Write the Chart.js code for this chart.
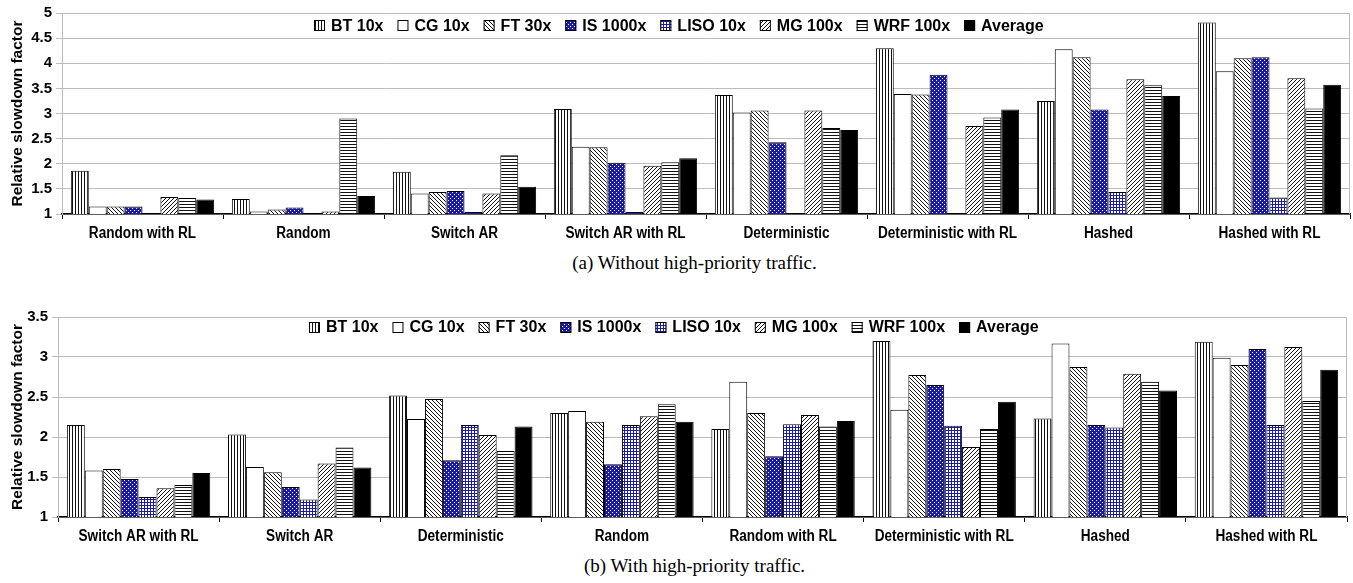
<!DOCTYPE html>
<html>
<head>
<meta charset="utf-8">
<script src="https://cdn.jsdelivr.net/npm/chart.js@4.4.1/dist/chart.umd.min.js"></script>
<style>
  html, body { margin: 0; padding: 0; background: #fff; }
  body { width: 1353px; height: 583px; position: relative; overflow: hidden; }
  .panel { position: absolute; left: 0; }
  .caption {
    position: absolute; left: 18px; width: 1353px; text-align: center;
    font-family: "Liberation Serif", "Times New Roman", serif; font-size: 19px; color: #000;
    line-height: 22px;
  }
</style>
</head>
<body>
<div class="panel" style="top:0"><canvas id="chartA" width="1353" height="245"></canvas></div>
<div class="caption" style="top:252px">(a) Without high-priority traffic.</div>
<div class="panel" style="top:304px"><canvas id="chartB" width="1353" height="244"></canvas></div>
<div class="caption" style="top:555px">(b) With high-priority traffic.</div>

<script>
// ---- Benchmarks shown in each group ----
const seriesNames = ['BT 10x', 'CG 10x', 'FT 30x', 'IS 1000x', 'LISO 10x', 'MG 100x', 'WRF 100x', 'Average'];

// ---- (a) Without high-priority traffic ----
const categoriesA = ['Random with RL', 'Random', 'Switch AR', 'Switch AR with RL',
                     'Deterministic', 'Deterministic with RL', 'Hashed', 'Hashed with RL'];
const btA   = [1.86, 1.30, 1.84, 3.09, 3.37, 4.30, 3.25, 4.81];
const cgA   = [1.15, 1.05, 1.41, 2.34, 3.02, 3.39, 4.28, 3.84];
const ftA   = [1.15, 1.09, 1.44, 2.33, 3.06, 3.38, 4.12, 4.10];
const isA   = [1.15, 1.13, 1.46, 2.02, 2.43, 3.77, 3.08, 4.12];
const lisoA = [1.02, 1.01, 1.04, 1.04, null, null, 1.44, 1.33];
const mgA   = [1.34, 1.05, 1.41, 1.96, 3.06, 2.75, 3.68, 3.70];
const wrfA  = [1.32, 2.90, 2.17, 2.03, 2.71, 2.92, 3.56, 3.10];
const avgA  = [1.29, 1.36, 1.54, 2.11, 2.67, 3.08, 3.35, 3.57];

// ---- (b) With high-priority traffic ----
const categoriesB = ['Switch AR with RL', 'Switch AR', 'Deterministic', 'Random',
                     'Random with RL', 'Deterministic with RL', 'Hashed', 'Hashed with RL'];
const btB   = [2.15, 2.03, 2.52, 2.30, 2.10, 3.20, 2.23, 3.19];
const cgB   = [1.58, 1.625, 2.225, 2.325, 2.69, 2.34, 3.17, 2.99];
const ftB   = [1.60, 1.56, 2.475, 2.19, 2.30, 2.775, 2.875, 2.90];
const isB   = [1.475, 1.375, 1.71, 1.66, 1.76, 2.65, 2.15, 3.10];
const lisoB = [1.25, 1.22, 2.15, 2.15, 2.16, 2.14, 2.12, 2.15];
const mgB   = [1.36, 1.67, 2.025, 2.26, 2.275, 1.875, 2.79, 3.125];
const wrfB  = [1.40, 1.87, 1.825, 2.41, 2.13, 2.10, 2.69, 2.45];
const avgB  = [1.55, 1.62, 2.13, 2.19, 2.20, 2.44, 2.58, 2.84];

// ---- Y axis ranges ----
const yRangeA = { min: 1, max: 5, step: 0.5 };
const yRangeB = { min: 1, max: 3.5, step: 0.25 };

// ---- Monochrome fill patterns ----
const BLUE = '#1c1c9e';
function tile(size, bg, paint) {
  const c = document.createElement('canvas');
  c.width = size; c.height = size;
  const g = c.getContext('2d');
  g.fillStyle = bg; g.fillRect(0, 0, size, size);
  paint(g, size);
  return document.createElement('canvas').getContext('2d').createPattern(c, 'repeat');
}
const fills = [
  tile(3, '#fff', (g) => { g.fillStyle = '#111'; g.fillRect(0, 0, 1, 3); }),                    // vertical lines
  '#ffffff',                                                                                     // plain white
  tile(4, '#fff', (g) => { g.fillStyle = '#111'; for (let i = 0; i < 4; i++) g.fillRect(i, i, 1, 1); }),      // "\" hatch
  tile(4, BLUE, (g) => { g.fillStyle = '#fff'; g.fillRect(0, 0, 1, 1); g.fillRect(2, 2, 1, 1); }),           // blue dots
  tile(3, '#fff', (g) => { g.fillStyle = BLUE; g.fillRect(0, 0, 3, 1); g.fillRect(0, 0, 1, 3); }),           // blue grid
  tile(4, '#fff', (g) => { g.fillStyle = '#111'; for (let i = 0; i < 4; i++) g.fillRect(3 - i, i, 1, 1); }),  // "/" hatch
  tile(3, '#fff', (g) => { g.fillStyle = '#111'; g.fillRect(0, 0, 3, 1); }),                    // horizontal lines
  '#000000'                                                                                      // solid black
];

const SANS = '"Liberation Sans", Arial, sans-serif';
const GRID = '#bcbcbc';

// Legend drawn inside the plot, in the band between the two topmost grid lines
const plotLegend = {
  id: 'plotLegend',
  afterDatasetsDraw(chart, args, opts) {
    const ctx = chart.ctx;
    const ys = chart.scales.y;
    const y = (ys.getPixelForValue(opts.upper) + ys.getPixelForValue(opts.lower)) / 2;
    ctx.save();
    ctx.font = 'bold 16px ' + SANS;
    ctx.textBaseline = 'middle';
    const box = 11, gapText = 6, gapItem = 14;
    const items = chart.data.datasets.map(ds => ({ label: ds.label, fill: ds.backgroundColor, w: ctx.measureText(ds.label).width }));
    const total = items.reduce((s, it) => s + box + gapText + it.w, 0) + gapItem * (items.length - 1);
    let x = Math.round(chart.width / 2 - total / 2 + opts.shift);
    items.forEach(it => {
      const top = Math.round(y - box / 2);
      ctx.fillStyle = it.fill;
      ctx.fillRect(x, top, box, box);
      ctx.strokeStyle = '#000'; ctx.lineWidth = 1;
      ctx.strokeRect(x + 0.5, top + 0.5, box - 1, box - 1);
      ctx.fillStyle = '#000';
      ctx.fillText(it.label, x + box + gapText, y + 1);
      x += box + gapText + it.w + gapItem;
    });
    ctx.restore();
  }
};

// Category names under the x axis, set in a condensed bold face
const condensedCategoryLabels = {
  id: 'condensedCategoryLabels',
  afterDraw(chart) {
    const { ctx, chartArea: a } = chart;
    const xs = chart.scales.x;
    ctx.save();
    ctx.font = 'bold 16px ' + SANS;
    ctx.fillStyle = '#000';
    ctx.textAlign = 'center';
    ctx.textBaseline = 'middle';
    chart.data.labels.forEach((label, i) => {
      ctx.save();
      ctx.translate(xs.getPixelForTick(i), a.bottom + 19.5);
      ctx.scale(0.85, 1);
      ctx.fillText(label, 0, 0);
      ctx.restore();
    });
    ctx.restore();
  }
};

// Right-hand frame line of the plot area
const plotFrame = {
  id: 'plotFrame',
  beforeDatasetsDraw(chart) {
    const { ctx, chartArea: a } = chart;
    ctx.save();
    ctx.strokeStyle = GRID; ctx.lineWidth = 1;
    ctx.beginPath();
    ctx.moveTo(Math.round(a.right) - 0.5, a.top);
    ctx.lineTo(Math.round(a.right) - 0.5, a.bottom);
    ctx.stroke();
    ctx.restore();
  }
};

function buildChart(id, categories, values, range, axisWidth, padRight, legendShift) {
  const datasets = values.map((vals, i) => ({
    label: seriesNames[i],
    data: vals,
    backgroundColor: fills[i],
    borderColor: '#000',
    borderWidth: 1,
    categoryPercentage: 0.89,
    barPercentage: 1.0
  }));
  return new Chart(document.getElementById(id), {
    type: 'bar',
    data: { labels: categories, datasets },
    plugins: [plotFrame, plotLegend, condensedCategoryLabels],
    options: {
      responsive: false,
      animation: false,
      devicePixelRatio: 1,
      layout: { padding: { top: 13, right: padRight, bottom: 0, left: 0 } },
      plugins: {
        legend: { display: false },
        tooltip: { enabled: false },
        plotLegend: { upper: range.max, lower: range.max - (range.step === 0.5 ? 0.5 : 0.25), shift: legendShift }
      },
      scales: {
        x: {
          grid: { offset: true, drawOnChartArea: false, tickLength: 5, color: '#000', lineWidth: 1 },
          border: { color: '#000', width: 1.5 },
          ticks: { display: false, autoSkip: false },
          afterFit(s) { s.height = 31; }
        },
        y: {
          min: range.min, max: range.max,
          grid: { color: GRID, lineWidth: 1, tickLength: 6 },
          border: { color: GRID, width: 1 },
          ticks: {
            stepSize: range.step, color: '#000', padding: 4,
            font: { family: SANS, size: 15, weight: 'bold' },
            callback: (v) => (Math.abs(v * 2 - Math.round(v * 2)) < 1e-6 ? String(v) : '')
          },
          title: {
            display: true, text: 'Relative slowdown factor', color: '#000',
            font: { family: SANS, size: 15.5, weight: 'bold' },
            padding: { top: 8, bottom: 0 }
          },
          afterFit(s) { s.width = axisWidth; }
        }
      }
    }
  });
}

buildChart('chartA', categoriesA, [btA, cgA, ftA, isA, lisoA, mgA, wrfA, avgA], yRangeA, 62, 3, 2);
buildChart('chartB', categoriesB, [btB, cgB, ftB, isB, lisoB, mgB, wrfB, avgB], yRangeB, 58, 6, -3);
</script>
</body>
</html>
